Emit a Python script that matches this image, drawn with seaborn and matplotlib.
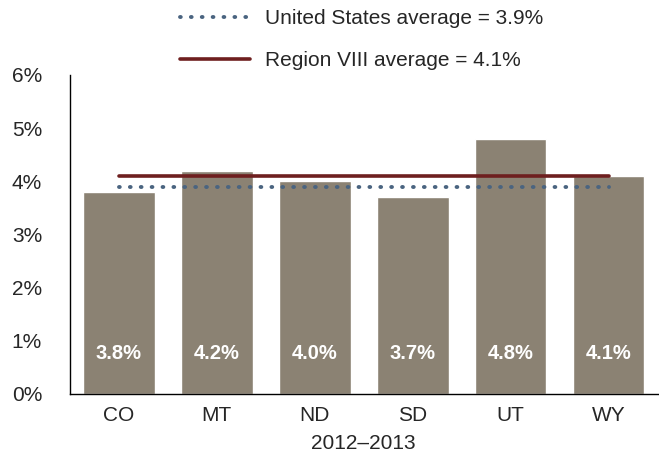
import pandas as pd
import seaborn as sns
import matplotlib.pyplot as plt
from matplotlib.ticker import FuncFormatter

# Values
states = ["CO", "MT", "ND", "SD", "UT", "WY"]
rates = [3.8, 4.2, 4.0, 3.7, 4.8, 4.1]
us_average = 3.9
region_average = 4.1

bar_color = "#8b8273"
region_color = "#6e1f1f"
us_color = "#4a6480"

sns.set_style("white")
plt.rcParams["font.family"] = ["Liberation Sans", "DejaVu Sans"]

df = pd.DataFrame({"State": states, "Rate": rates})
df["US"] = us_average
df["Region"] = region_average

fig = plt.figure(figsize=(6.59, 4.65), dpi=100)
ax = fig.add_axes([0.106, 0.153, 0.892, 0.686])

sns.barplot(data=df, x="State", y="Rate", color=bar_color, width=0.73,
            saturation=1, ax=ax)
sns.lineplot(x=range(len(states)), y=df["Region"], color=region_color,
             linewidth=2.6, ax=ax, label=f"Region VIII average = {region_average}%")
sns.lineplot(x=range(len(states)), y=df["US"], color=us_color,
             linewidth=2.8, linestyle=(0, (0.2, 2.6)), dash_capstyle="round",
             ax=ax, label=f"United States average = {us_average}%")

# value labels inside the bars
for i, v in enumerate(rates):
    ax.text(i, 0.75, f"{v:.1f}%", color="white", fontweight="bold",
            ha="center", va="center", fontsize=14.5,
            family=["Liberation Sans Narrow", "Liberation Sans", "DejaVu Sans"])

ax.set_xlim(-0.5, 5.5)
ax.set_ylim(0, 6)
ax.set_yticks(range(0, 7))
ax.yaxis.set_major_formatter(FuncFormatter(lambda y, _: f"{int(y)}%"))
ax.set_xlabel("2012–2013", fontsize=15, labelpad=6)
ax.set_ylabel("")
ax.tick_params(axis="both", labelsize=15, length=0)
ax.tick_params(axis="y", pad=20)
ax.tick_params(axis="x", pad=9)

sns.despine(ax=ax, top=True, right=True)
for side in ["left", "bottom"]:
    ax.spines[side].set_color("black")
    ax.spines[side].set_linewidth(1)

handles, labels = ax.get_legend_handles_labels()
ax.legend_.remove()
fig.legend(handles[::-1], labels[::-1], loc="upper left",
           bbox_to_anchor=(0.244, 1.02), frameon=False, fontsize=15,
           handlelength=3.4, labelspacing=1.1, handletextpad=0.7)

fig.savefig("out.png", dpi=100)
